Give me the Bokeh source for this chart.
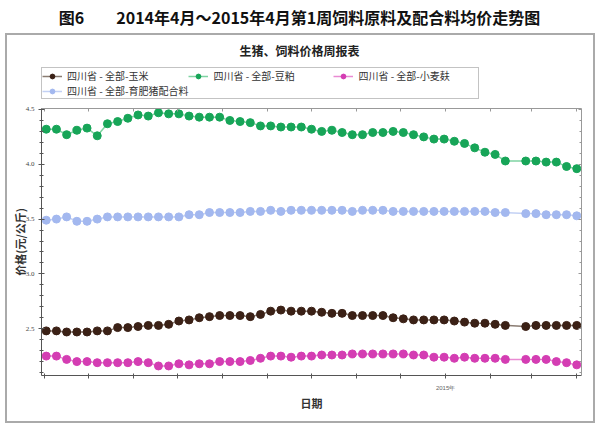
from datetime import datetime
from bokeh.plotting import figure
from bokeh.layouts import column
from bokeh.models import (Range1d, LinearAxis, FixedTicker, SingleIntervalTicker, Legend, LegendItem,
                          Label, CustomJSTickFormatter, NumeralTickFormatter)
from bokeh.embed import file_html
from bokeh.resources import INLINE

# ---------------- data ----------------
week_dates = [
    "2014-04-02", "2014-04-09", "2014-04-16", "2014-04-23", "2014-04-30", "2014-05-07", "2014-05-14",
    "2014-05-21", "2014-05-28", "2014-06-04", "2014-06-11", "2014-06-18", "2014-06-25", "2014-07-02",
    "2014-07-09", "2014-07-16", "2014-07-23", "2014-07-30", "2014-08-06", "2014-08-13", "2014-08-20",
    "2014-08-27", "2014-09-03", "2014-09-10", "2014-09-17", "2014-09-24", "2014-10-01", "2014-10-08",
    "2014-10-15", "2014-10-22", "2014-10-29", "2014-11-05", "2014-11-12", "2014-11-19", "2014-11-26",
    "2014-12-03", "2014-12-10", "2014-12-17", "2014-12-24", "2014-12-31", "2015-01-07", "2015-01-14",
    "2015-01-21", "2015-01-28", "2015-02-04", "2015-02-11", "2015-02-25", "2015-03-04", "2015-03-11",
    "2015-03-18", "2015-03-25", "2015-04-01",
]
corn = [2.48, 2.48, 2.47, 2.47, 2.47, 2.48, 2.48, 2.51, 2.51, 2.52, 2.53, 2.53, 2.54, 2.57,
        2.58, 2.60, 2.61, 2.62, 2.62, 2.62, 2.61, 2.63, 2.66, 2.67, 2.66, 2.66, 2.66, 2.65,
        2.64, 2.64, 2.62, 2.62, 2.62, 2.62, 2.60, 2.59, 2.58, 2.58, 2.58, 2.58, 2.57, 2.56,
        2.55, 2.55, 2.54, 2.53, 2.52, 2.53, 2.53, 2.53, 2.53, 2.53]
soymeal = [4.32, 4.32, 4.27, 4.31, 4.33, 4.26, 4.37, 4.39, 4.42, 4.45, 4.44, 4.47, 4.46, 4.46,
           4.44, 4.43, 4.43, 4.43, 4.40, 4.39, 4.38, 4.35, 4.35, 4.34, 4.34, 4.34, 4.32, 4.30,
           4.31, 4.29, 4.27, 4.27, 4.29, 4.29, 4.30, 4.29, 4.27, 4.25, 4.23, 4.23, 4.21, 4.19,
           4.15, 4.11, 4.09, 4.03, 4.03, 4.03, 4.02, 4.02, 3.98, 3.96]
bran = [2.25, 2.25, 2.22, 2.20, 2.20, 2.19, 2.19, 2.19, 2.19, 2.20, 2.19, 2.16, 2.16, 2.18,
        2.17, 2.18, 2.18, 2.20, 2.20, 2.20, 2.21, 2.23, 2.25, 2.25, 2.24, 2.25, 2.25, 2.26,
        2.26, 2.26, 2.27, 2.27, 2.27, 2.27, 2.27, 2.27, 2.26, 2.26, 2.24, 2.24, 2.23, 2.24,
        2.23, 2.23, 2.23, 2.22, 2.22, 2.22, 2.22, 2.20, 2.19, 2.17]
feed = [3.49, 3.50, 3.52, 3.48, 3.48, 3.50, 3.52, 3.52, 3.52, 3.52, 3.52, 3.52, 3.52, 3.52,
        3.54, 3.54, 3.56, 3.56, 3.56, 3.56, 3.57, 3.57, 3.58, 3.57, 3.58, 3.58, 3.58, 3.58,
        3.58, 3.58, 3.57, 3.58, 3.58, 3.58, 3.57, 3.57, 3.57, 3.57, 3.57, 3.57, 3.57, 3.57,
        3.57, 3.57, 3.56, 3.56, 3.55, 3.55, 3.54, 3.54, 3.54, 3.53]
series_names = ["四川省 - 全部-玉米", "四川省 - 全部-豆粕", "四川省 - 全部-小麦麸", "四川省 - 全部-育肥猪配合料"]
month_ticks = ["2014-04-01", "2014-05-01", "2014-06-01", "2014-07-01", "2014-08-01", "2014-09-01",
               "2014-10-01", "2014-11-01", "2014-12-01", "2015-01-01", "2015-02-01", "2015-03-01",
               "2015-04-01"]
title_text = "图6\u3000\u30002014年4月～2015年4月第1周饲料原料及配合料均价走势图"
subtitle_text = "生猪、饲料价格周报表"
y_label = "价格(元/公斤)"
x_label = "日期"

styles = [
    (corn, "#3b2116", "#8a7c72"),
    (soymeal, "#17a558", "#7fd3a2"),
    (bran, "#d43db3", "#e98bd3"),
    (feed, "#a3b8ef", "#c3d1f4"),
]
CJK = "Noto Sans CJK SC"


def bare(width, height):
    f = figure(width=width, height=height, output_backend="svg", toolbar_location=None,
               x_range=Range1d(0, 1), y_range=Range1d(0, 1), min_border=0,
               x_axis_location=None, y_axis_location=None)
    f.outline_line_color = None
    f.xgrid.visible = False
    f.ygrid.visible = False
    return f


# ---------------- main title (outside the frame box) ----------------
head = bare(597, 33)
head.add_layout(Label(x=299, y=17, x_units="screen", y_units="screen", text=title_text,
                      text_align="center", text_baseline="middle", text_font=CJK,
                      text_font_style="bold", text_font_size="16px", text_color="#111111"))

# ---------------- subtitle + legend (frame aligned with the chart frame) ----------------
top = bare(586, 66)
top.add_layout(Label(x=258, y=51, x_units="screen", y_units="screen", text=subtitle_text,
                     text_align="center", text_baseline="middle", text_font=CJK,
                     text_font_style="bold", text_font_size="12px", text_color="#222222"))
items = []
for name, (vals, mcol, lcol) in zip(series_names, styles):
    # legend proxies: one value placed outside this strip's range, so only the legend shows it
    l = top.line(x=[0, 1], y=[vals[0], vals[1]], line_color=lcol, line_width=1.5)
    s = top.scatter(x=[0], y=[vals[0]], marker="circle", size=7, fill_color=mcol, line_color=mcol)
    items.append(LegendItem(label=name, renderers=[l, s]))
legend = Legend(items=items, location=(0, 2), orientation="horizontal", ncols=3,
                glyph_width=20, glyph_height=12, label_height=12, label_width=120,
                label_standoff=5, spacing=0, padding=0, margin=0,
                label_text_font=CJK, label_text_font_size="10px",
                label_text_color="#333333", border_line_color="#888888",
                background_fill_color="white")
top.add_layout(legend)

# ---------------- chart ----------------
x = [datetime.strptime(d, "%Y-%m-%d") for d in week_dates]
tick_ms = [(datetime.strptime(d, "%Y-%m-%d") - datetime(1970, 1, 1)).total_seconds() * 1000 for d in month_ticks]

p = figure(width=586, height=320, x_axis_type="datetime", output_backend="svg", toolbar_location=None,
           x_range=Range1d(datetime(2014, 3, 29, 18), datetime(2015, 4, 4, 6)),
           y_range=Range1d(2.073, 4.509),
           min_border_left=34, min_border_right=12, min_border_top=7, min_border_bottom=46)
p.background_fill_color = "white"
p.border_fill_color = "white"
p.outline_line_color = None
p.xgrid.visible = False
p.ygrid.visible = False

xt = FixedTicker(ticks=tick_ms, minor_ticks=[])
yt = SingleIntervalTicker(interval=0.5, num_minor_ticks=5)

xa = p.xaxis[0]
xa.ticker = xt
xa.formatter = CustomJSTickFormatter(code="""
const d = new Date(tick);
return (d.getUTCFullYear() == 2015 && d.getUTCMonth() == 0) ? "2015年" : "";
""")
xa.major_label_text_font_size = "6px"
xa.major_label_text_color = "#666666"
xa.major_label_standoff = 6
xa.major_tick_in = 2
xa.major_tick_out = 3
xa.minor_tick_line_color = None
xa.axis_line_color = "#555555"
xa.major_tick_line_color = "#555555"
xa.axis_label = x_label
xa.axis_label_text_font = CJK
xa.axis_label_text_font_style = "bold"
xa.axis_label_text_font_size = "11px"
xa.axis_label_text_color = "#333333"
xa.axis_label_standoff = 1

ya = p.yaxis[0]
ya.ticker = yt
ya.formatter = NumeralTickFormatter(format="0.0")
ya.major_label_text_font = "Liberation Serif"
ya.major_label_text_font_size = "7px"
ya.major_label_text_color = "#444444"
ya.major_label_standoff = 4
ya.major_tick_in = 3
ya.major_tick_out = 3
ya.minor_tick_in = 2
ya.minor_tick_out = 2
ya.axis_line_color = "#555555"
ya.major_tick_line_color = "#555555"
ya.minor_tick_line_color = "#555555"
ya.axis_label = y_label
ya.axis_label_text_font = CJK
ya.axis_label_text_font_style = "bold"
ya.axis_label_text_font_size = "11px"
ya.axis_label_text_color = "#333333"
ya.axis_label_standoff = -5

blank = CustomJSTickFormatter(code="return '';")
top_axis = LinearAxis(ticker=xt, formatter=blank, major_tick_in=3, major_tick_out=0,
                      major_label_standoff=0,
                      axis_line_color="#999999", major_tick_line_color="#999999",
                      minor_tick_line_color=None, major_label_text_font_size="0px")
right_axis = LinearAxis(ticker=yt, formatter=blank, major_tick_in=3, major_tick_out=0,
                        minor_tick_in=2, minor_tick_out=0, major_label_standoff=0,
                        axis_line_color="#999999", major_tick_line_color="#999999",
                        minor_tick_line_color="#999999", major_label_text_font_size="0px")
p.add_layout(top_axis, "above")
p.add_layout(right_axis, "right")

for vals, mcol, lcol in styles:
    p.line(x, vals, line_color=lcol, line_width=1.5)
    p.scatter(x, vals, marker="circle", size=8, fill_color=mcol, line_color=mcol)

box = column(top, p, spacing=0, styles={"border": "2px solid #aaaaaa", "margin-left": "5px"})
page = column(head, box, spacing=0)

open("out.html", "w").write(file_html(page, INLINE))
